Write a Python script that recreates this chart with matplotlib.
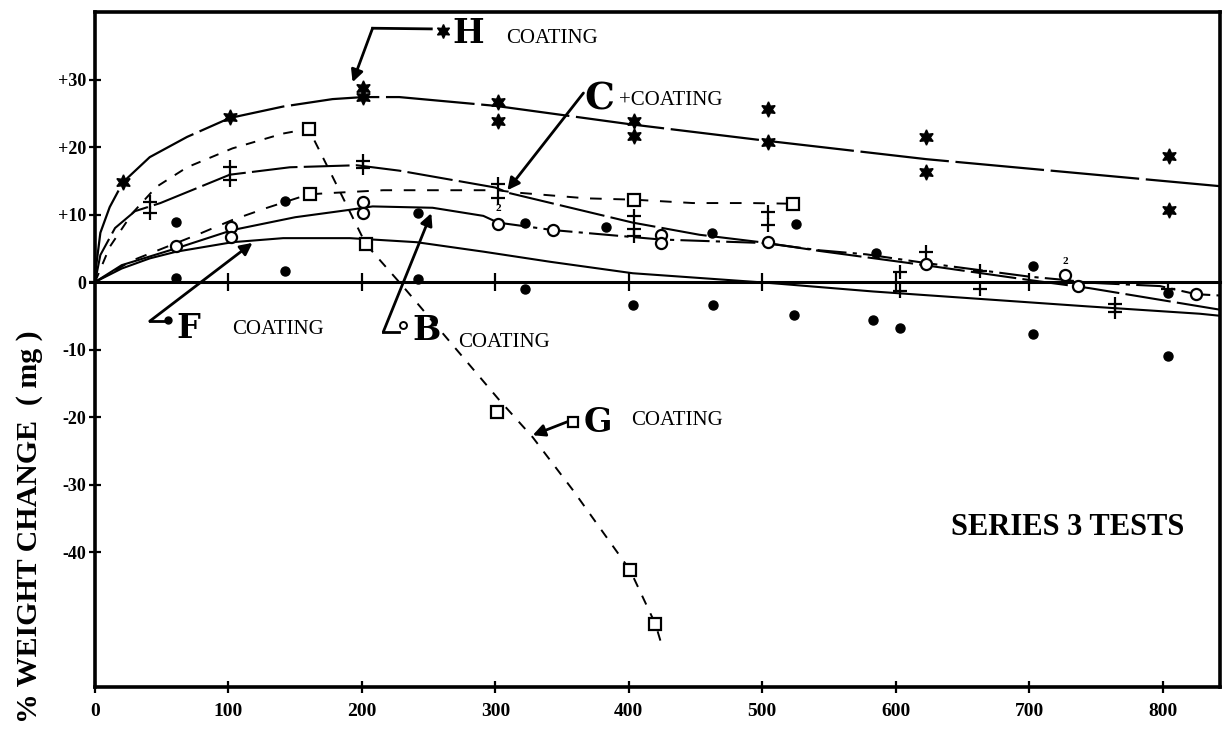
import matplotlib
matplotlib.use("Agg")
import matplotlib.pyplot as plt

# H coating (stars)
h_x = [21, 101, 201, 201, 302, 302, 404, 404, 504, 504, 623, 623, 805, 805]
h_y = [14.8, 24.4, 28.7, 27.4, 26.6, 23.9, 23.9, 21.6, 25.7, 20.7, 21.5, 16.3, 18.7, 10.7]
h_cx = [0, 4, 11, 21, 41, 69, 101, 141, 178, 201, 228, 300, 400, 500, 623, 843]
h_cy = [1, 7.3, 11.1, 14.8, 18.5, 21.5, 24.3, 26.0, 27.1, 27.4, 27.4, 26.1, 23.4, 21.0, 18.2, 14.2]

# G coating (squares, dashed)
g_x = [160, 203, 301, 401, 420]
g_y = [22.7, 5.6, -19.3, -42.7, -50.7]
g_cx = [0, 11, 28, 46, 69, 103, 141, 160, 178, 203, 231, 273, 303, 328, 358, 401, 420, 425]
g_cy = [0, 5.2, 10.2, 14.1, 17.0, 19.8, 22.0, 22.7, 15.6, 5.6, -0.7, -10.5, -17.5, -23.0, -30.8, -42.7, -50.7, -54.0]

# second squares series (dashed, unlabelled)
d_x = [161, 404, 523]
d_y = [13.0, 12.2, 11.6]
d_cx = [0, 28, 51, 79, 103, 129, 154, 161, 178, 216, 302, 313, 368, 404, 448, 491, 523]
d_cy = [0, 3.2, 5.0, 7.2, 9.2, 11.0, 12.6, 13.0, 13.2, 13.6, 13.6, 13.3, 12.4, 12.2, 11.7, 11.7, 11.6]

# C coating (+)
c_x = [41, 41, 101, 101, 201, 201, 302, 302, 404, 404, 404, 504, 504, 623, 603, 603, 663, 663, 764, 764, 804]
c_y = [11.9, 10.2, 17.0, 15.1, 17.9, 16.9, 14.5, 12.5, 9.8, 7.8, 6.8, 10.3, 8.5, 4.4, 1.5, -1.3, 1.6, -1.0, -3.3, -4.5, -1.0]
c_cx = [0, 4, 15, 30, 49, 101, 146, 196, 228, 300, 310, 403, 453, 503, 543, 618, 700, 745, 843]
c_cy = [0, 4.0, 8.0, 10.5, 11.7, 15.9, 17.0, 17.3, 16.5, 14.0, 13.2, 8.8, 7.0, 5.8, 4.6, 2.6, 0.3, -0.9, -4.1]

# B coating (open circles)
b_x = [61, 102, 102, 201, 201, 302, 343, 424, 424, 504, 623, 727, 737, 825]
b_y = [5.4, 8.2, 6.7, 11.9, 10.2, 8.6, 7.7, 6.9, 5.8, 6.0, 2.7, 1.0, -0.6, -1.8]
b_sx = [0, 20, 61, 103, 150, 191, 208, 253, 291, 302]
b_sy = [0, 2.5, 5.0, 7.7, 9.6, 10.7, 11.2, 11.0, 9.8, 8.8]
b_dx = [302, 343, 418, 424, 498, 504, 543, 578, 623, 700, 727, 745, 798, 825, 843]
b_dy = [8.8, 7.7, 6.4, 6.3, 5.8, 5.7, 4.7, 4.1, 2.8, 0.8, 0.3, -0.1, -0.6, -1.8, -2.0]

# F coating (filled dots)
f_x = [61, 61, 142, 142, 242, 242, 322, 322, 383, 403, 462, 463, 525, 524, 585, 583, 603, 703, 703, 804, 804]
f_y = [8.9, 0.6, 12.0, 1.6, 10.2, 0.4, 8.7, -1.1, 8.1, -3.4, 7.2, -3.4, 8.6, -4.9, 4.3, -5.6, -6.8, 2.3, -7.7, -1.6, -10.9]
f_cx = [0, 20, 41, 61, 103, 141, 191, 241, 291, 341, 403, 503, 583, 663, 743, 828, 843]
f_cy = [0, 2.0, 3.5, 4.5, 5.9, 6.5, 6.5, 5.9, 4.5, 3.0, 1.3, -0.1, -1.4, -2.5, -3.6, -4.7, -5.0]

xticks = [0, 100, 200, 300, 400, 500, 600, 700, 800]
xlabels = ["0", "100", "200", "300", "400", "500", "600", "700", "800"]
yticks = [30, 20, 10, 0, -10, -20, -30, -40]
ylabels = ["+30", "+20", "+10", "0", "-10", "-20", "-30", "-40"]
zero_ticks = [100, 200, 300, 400, 500, 600, 700]

serif = "Liberation Serif"
big = "DejaVu Serif"

fig = plt.figure(figsize=(12.23, 7.29), dpi=100)
ax = fig.add_axes([0.0777, 0.0576, 0.9198, 0.9259])
ax.set_xlim(0, 843)
ax.set_ylim(-60, 40)

# zero line with its little ticks
ax.plot([-4, 843], [0, 0], color="black", lw=2.2, clip_on=False)
ax.plot(zero_ticks, [0] * len(zero_ticks), ls="none", marker="|", ms=13, mew=1.6, color="black")

# curves
ax.plot(h_cx, h_cy, color="black", lw=1.6, dashes=(40, 3))
ax.plot(g_cx, g_cy, color="black", lw=1.4, dashes=(5, 5))
ax.plot(d_cx, d_cy, color="black", lw=1.4, dashes=(6, 6))
ax.plot(c_cx, c_cy, color="black", lw=1.5, dashes=(22, 3))
ax.plot(b_sx, b_sy, color="black", lw=1.5)
ax.plot(b_dx, b_dy, color="black", lw=1.5, dashes=(14, 3, 2, 3))
ax.plot(f_cx, f_cy, color="black", lw=1.5)

# data points
ax.plot(h_x, h_y, ls="none", marker=(6, 1, 0), ms=11, color="black")
ax.plot(g_x, g_y, ls="none", marker="s", ms=8, mfc="white", mec="black", mew=1.6)
ax.plot(d_x, d_y, ls="none", marker="s", ms=8, mfc="white", mec="black", mew=1.6)
ax.plot(c_x, c_y, ls="none", marker="+", ms=10, mew=1.6, color="black")
ax.plot(b_x, b_y, ls="none", marker="o", ms=8, mfc="white", mec="black", mew=1.6)
ax.plot(f_x, f_y, ls="none", marker="o", ms=6.5, color="black")

ax.text(302, 10.2, "2", fontsize=8, ha="center", va="bottom", family=serif, fontweight="bold")
ax.text(727, 2.3, "2", fontsize=8, ha="center", va="bottom", family=serif, fontweight="bold")

# labels with arrows
arr = dict(arrowstyle="-|>", color="black", lw=2.0, mutation_scale=18, shrinkA=0, shrinkB=0)

ax.plot([252, 208], [37.5, 37.6], color="black", lw=2.0)
ax.annotate("", xy=(193, 29.6), xytext=(208, 37.6), arrowprops=arr)
ax.plot([261], [37.2], marker=(6, 1, 0), ms=10, color="black", clip_on=False)
ax.text(268, 35.4, "H", fontsize=24, fontweight="bold", family=big, va="baseline")
ax.text(308, 35.4, "COATING", fontsize=15, family=serif, va="baseline")

ax.annotate("", xy=(309, 13.6), xytext=(366, 28.0), arrowprops=arr)
ax.text(367, 25.5, "C", fontsize=27, fontweight="bold", family=big, va="baseline")
ax.text(393, 26.2, "+COATING", fontsize=15, family=serif, va="baseline")

ax.plot([41, 52], [-5.8, -5.8], color="black", lw=2.0)
ax.annotate("", xy=(118, 5.8), xytext=(41, -5.8), arrowprops=arr)
ax.plot([55], [-5.7], marker="o", ms=5, color="black")
ax.text(61, -8.3, "F", fontsize=24, fontweight="bold", family=big, va="baseline")
ax.text(103, -7.7, "COATING", fontsize=15, family=serif, va="baseline")

ax.plot([216, 228], [-7.4, -7.4], color="black", lw=2.0)
ax.annotate("", xy=(252, 10.2), xytext=(216, -7.4), arrowprops=arr)
ax.plot([231], [-6.4], marker="o", ms=5, mfc="white", mec="black", mew=1.4)
ax.text(238, -8.6, "B", fontsize=24, fontweight="bold", family=big, va="baseline")
ax.text(272, -9.6, "COATING", fontsize=15, family=serif, va="baseline")

ax.annotate("", xy=(328, -22.7), xytext=(354, -20.7), arrowprops=arr)
ax.plot([358], [-20.7], marker="s", ms=7, mfc="white", mec="black", mew=1.6)
ax.text(366, -22.2, "G", fontsize=24, fontweight="bold", family=big, va="baseline")
ax.text(402, -21.2, "COATING", fontsize=15, family=serif, va="baseline")

ax.text(729, -37.5, "SERIES 3 TESTS", fontsize=22, fontweight="bold", family=serif,
        ha="center", va="baseline")

# axes styling
for s in ax.spines.values():
    s.set_linewidth(2.6)
ax.set_xticks(xticks)
ax.set_xticklabels(xlabels, family=serif, fontweight="bold", fontsize=14)
ax.set_yticks(yticks)
ax.set_yticklabels(ylabels, family=serif, fontweight="bold", fontsize=13)
ax.tick_params(axis="both", direction="inout", length=9, width=1.6)
ax.tick_params(axis="x", pad=7)
ax.tick_params(axis="y", pad=2)

# y label kept fully inside the figure
fig.text(30 / 1223, 1 - 330 / 729, "% WEIGHT CHANGE  ( mg )", rotation=90, va="top", ha="center",
         fontsize=21.5, fontweight="bold", family=serif)

fig.savefig("out.png", dpi=100)
